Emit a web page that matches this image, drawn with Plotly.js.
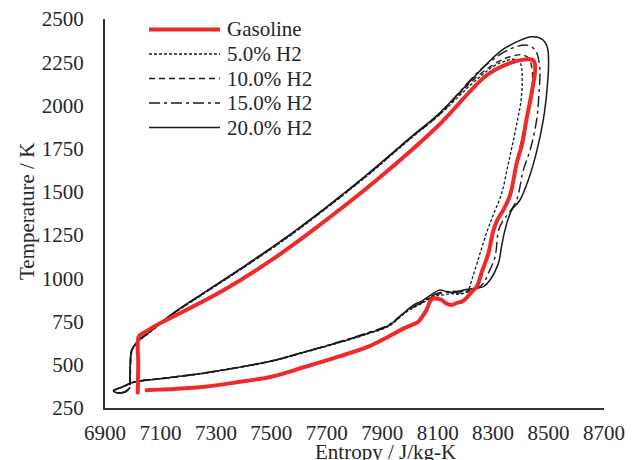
<!DOCTYPE html>
<html>
<head>
<meta charset="utf-8">
<script src="https://cdn.plot.ly/plotly-3.0.1.min.js"></script>
<style>
html,body{margin:0;padding:0;background:#fff;}
#chart{width:641px;height:460px;}
</style>
</head>
<body>
<div id="chart"></div>
<script>
// ---- data (entropy J/kg-K, temperature K) ----
const seriesNames = ["Gasoline", "5.0% H2", "10.0% H2", "15.0% H2", "20.0% H2"];

const gasolineS = [7018, 7020, 7022, 7045, 7092, 7150, 7321, 7500, 7650, 7880, 8100, 8278, 8360, 8410, 8444, 8452, 8440, 8420, 8405, 8385, 8361, 8335, 8315, 8300, 8283, 8260, 8241, 8225, 8200, 8187, 8170, 8151, 8130, 8115, 8100, 8084, 8072, 8060, 8045, 8030, 7980, 7922, 7850, 7742, 7620, 7501, 7380, 7261, 7150, 7060, 7044];
const gasolineT = [330, 500, 662, 690, 735, 782, 925, 1105, 1279, 1569, 1880, 2176, 2245, 2265, 2262, 2225, 2080, 1916, 1780, 1665, 1480, 1390, 1337, 1270, 1145, 1040, 952, 925, 880, 865, 858, 846, 855, 875, 882, 884, 865, 817, 780, 749, 712, 662, 605, 547, 487, 431, 400, 373, 360, 354, 352];

const h2_5S = [6990, 6991, 6993, 6997, 7010, 7030, 7056, 7141, 7261, 7420, 7593, 7832, 8000, 8108, 8220, 8300, 8350, 8380, 8398, 8405, 8400, 8388, 8372, 8355, 8331, 8300, 8280, 8253, 8223, 8211, 8195, 8170, 8150, 8125, 8100, 8080, 8042, 7990, 7922, 7850, 7742, 7620, 7501, 7380, 7261, 7130, 7000, 6965, 6935, 6940, 6970, 6990];
const h2_5T = [385, 460, 540, 580, 615, 650, 680, 788, 916, 1083, 1276, 1575, 1805, 1948, 2120, 2225, 2260, 2266, 2245, 2150, 2020, 1916, 1790, 1665, 1492, 1365, 1280, 1145, 990, 935, 915, 908, 912, 905, 900, 890, 855, 808, 722, 680, 626, 572, 520, 483, 452, 425, 398, 372, 352, 340, 344, 370];

const h2_10S = [6991, 6992, 6994, 6998, 7012, 7032, 7056, 7141, 7261, 7420, 7593, 7832, 8000, 8108, 8230, 8320, 8370, 8405, 8430, 8442, 8436, 8418, 8400, 8383, 8360, 8335, 8313, 8300, 8283, 8262, 8245, 8228, 8200, 8170, 8140, 8110, 8080, 8042, 7990, 7922, 7850, 7742, 7620, 7501, 7380, 7261, 7130, 7000, 6962, 6932, 6942, 6972, 6991];
const h2_10T = [382, 460, 540, 585, 620, 652, 682, 790, 918, 1085, 1279, 1578, 1808, 1950, 2150, 2255, 2285, 2293, 2270, 2180, 2050, 1916, 1780, 1665, 1480, 1395, 1337, 1272, 1145, 1030, 960, 930, 918, 915, 920, 912, 893, 858, 812, 727, 684, 630, 573, 521, 484, 452, 424, 397, 370, 350, 338, 343, 368];

const h2_15S = [6989, 6990, 6992, 6996, 7010, 7030, 7056, 7141, 7261, 7420, 7593, 7832, 8000, 8108, 8250, 8330, 8380, 8421, 8452, 8468, 8465, 8457, 8435, 8409, 8385, 8360, 8337, 8320, 8307, 8283, 8265, 8245, 8210, 8175, 8145, 8110, 8080, 8042, 7990, 7922, 7850, 7742, 7620, 7501, 7380, 7261, 7130, 7000, 6962, 6932, 6944, 6973, 6989];
const h2_15T = [384, 460, 540, 583, 618, 652, 683, 791, 920, 1088, 1281, 1580, 1810, 1955, 2200, 2300, 2338, 2349, 2320, 2220, 2060, 1916, 1750, 1626, 1453, 1385, 1337, 1280, 1125, 1030, 971, 945, 930, 925, 925, 918, 898, 860, 815, 730, 686, 632, 575, 523, 486, 454, 426, 399, 371, 351, 339, 344, 369];

const h2_20S = [6990, 6990, 6992, 6996, 7010, 7030, 7056, 7141, 7261, 7420, 7593, 7832, 8000, 8108, 8325, 8395, 8440, 8475, 8495, 8500, 8495, 8481, 8455, 8427, 8397, 8367, 8343, 8330, 8319, 8289, 8265, 8235, 8193, 8160, 8133, 8108, 8084, 8042, 8012, 7922, 7850, 7742, 7620, 7501, 7380, 7261, 7130, 7000, 6960, 6930, 6945, 6975, 6990];
const h2_20T = [386, 460, 540, 586, 622, 655, 685, 793, 922, 1090, 1284, 1583, 1813, 1958, 2311, 2375, 2397, 2385, 2340, 2250, 2100, 1916, 1720, 1569, 1453, 1395, 1280, 1180, 1087, 990, 952, 942, 932, 918, 923, 932, 913, 868, 845, 725, 682, 628, 574, 522, 485, 453, 425, 398, 370, 350, 338, 343, 368];

const xTickVals = [6900, 7100, 7300, 7500, 7700, 7900, 8100, 8300, 8500, 8700];
const yTickVals = [250, 500, 750, 1000, 1250, 1500, 1750, 2000, 2250, 2500];
const xTitle = "Entropy / J/kg-K";
const yTitle = "Temperature / K";

// ---- styles ----
const FONT = "Liberation Serif, Times New Roman, serif";
const TXT = "#262626";
const styles = [
  {color: "#ee2a2a", width: 4, dash: "solid"},
  {color: "#1a1a1a", width: 1.3, dash: "3px,2px"},
  {color: "#1a1a1a", width: 1.4, dash: "6px,4px"},
  {color: "#1a1a1a", width: 1.4, dash: "11px,4px,3px,4px"},
  {color: "#1a1a1a", width: 1.5, dash: "solid"}
];
const seriesS = [gasolineS, h2_5S, h2_10S, h2_15S, h2_20S];
const seriesT = [gasolineT, h2_5T, h2_10T, h2_15T, h2_20T];

const order = [4, 3, 2, 1, 0]; // draw red on top
const traces = order.map(i => ({
  type: "scatter", mode: "lines",
  x: seriesS[i], y: seriesT[i], name: seriesNames[i],
  line: {color: styles[i].color, width: styles[i].width, dash: styles[i].dash, shape: "spline", smoothing: 1.0},
  hoverinfo: "skip"
}));

// manual legend (long line samples as in reference)
const L = 105, R = 604, T = 19, B = 408;
const px2x = p => (p - L) / (R - L);
const py2y = p => (B - p) / (B - T);
const legRows = [29.5, 54, 78.5, 103, 127.5];
const shapes = [];
const annotations = [];
seriesNames.forEach((nm, i) => {
  shapes.push({type: "line", xref: "paper", yref: "paper",
    x0: px2x(149), x1: px2x(220), y0: py2y(legRows[i]), y1: py2y(legRows[i]),
    line: {color: styles[i].color, width: i === 0 ? 4 : 1.3, dash: styles[i].dash}});
  annotations.push({xref: "paper", yref: "paper", x: px2x(225), y: py2y(legRows[i]),
    xanchor: "left", yanchor: "middle", text: nm, showarrow: false,
    font: {family: FONT, size: 21, color: TXT}});
});
annotations.push({xref: "paper", yref: "paper", x: px2x(385), y: py2y(452),
  xanchor: "center", yanchor: "middle", text: xTitle, showarrow: false,
  font: {family: FONT, size: 21, color: TXT}});
annotations.push({xref: "paper", yref: "paper", x: px2x(27), y: py2y(212),
  xanchor: "center", yanchor: "middle", text: yTitle, textangle: -90, showarrow: false,
  font: {family: FONT, size: 21, color: TXT}});

const layout = {
  width: 641, height: 460,
  margin: {l: L, r: 641 - R, t: T, b: 460 - B, pad: 0},
  paper_bgcolor: "#fff", plot_bgcolor: "#fff",
  showlegend: false, hovermode: false,
  font: {family: FONT, size: 21, color: TXT},
  xaxis: {range: [6900, 8700], tickmode: "array", tickvals: xTickVals,
    showgrid: false, zeroline: false, showline: true, linecolor: "#333", linewidth: 2,
    ticks: "", ticklabelstandoff: 5, tickfont: {family: FONT, size: 21, color: TXT}},
  yaxis: {range: [250, 2500], tickmode: "array", tickvals: yTickVals,
    showgrid: false, zeroline: false, showline: true, linecolor: "#333", linewidth: 2,
    ticks: "", ticklabelstandoff: 15, tickfont: {family: FONT, size: 21, color: TXT}},
  shapes: shapes,
  annotations: annotations
};

Plotly.newPlot("chart", traces, layout, {staticPlot: true, displayModeBar: false});
</script>
</body>
</html>
